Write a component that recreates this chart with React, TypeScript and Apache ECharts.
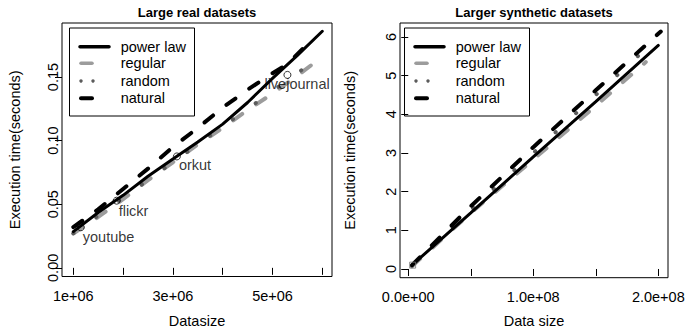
import React, { useEffect, useRef } from 'react';
import * as echarts from 'echarts';

// ---------- data ----------
const seriesNames = ['power law', 'regular', 'random', 'natural'];

// Left panel: Large real datasets (x = data size, y = seconds)
const realPowerLaw: number[][] = [
  [1.0e6, 0.0285], [1.5e6, 0.0435], [2.0e6, 0.057], [2.5e6, 0.072], [3.0e6, 0.0855],
  [3.5e6, 0.099], [4.0e6, 0.113], [4.5e6, 0.130], [5.0e6, 0.149], [5.5e6, 0.167], [6.0e6, 0.186],
];
const realRegular: number[][] = [
  [1.0e6, 0.027], [1.5e6, 0.040], [2.0e6, 0.054], [2.5e6, 0.069], [3.0e6, 0.083],
  [3.5e6, 0.097], [4.0e6, 0.110], [4.5e6, 0.124], [5.0e6, 0.137], [5.5e6, 0.151], [5.8e6, 0.160],
];
const realRandom: number[][] = [
  [1.0e6, 0.027], [1.5e6, 0.041], [2.0e6, 0.055], [2.5e6, 0.069], [3.0e6, 0.083],
  [3.5e6, 0.097], [4.0e6, 0.111], [4.5e6, 0.125], [5.0e6, 0.139], [5.5e6, 0.153], [5.9e6, 0.165],
];
const realNatural: number[][] = [
  [1.0e6, 0.032], [1.5e6, 0.046], [2.0e6, 0.062], [2.5e6, 0.078], [3.0e6, 0.095],
  [3.5e6, 0.110], [4.0e6, 0.126], [4.5e6, 0.140], [5.0e6, 0.153], [5.3e6, 0.160], [5.6e6, 0.172],
];
const realDatasetNames = ['youtube', 'flickr', 'orkut', 'livejournal'];
const realDatasetPoints: number[][] = [
  [1.15e6, 0.0319], [1.87e6, 0.0528], [3.08e6, 0.0876], [5.30e6, 0.1517],
];

// Right panel: Larger synthetic datasets
const synPowerLaw: number[][] = [
  [0.03e8, 0.10], [0.5e8, 1.45], [1.0e8, 2.90], [1.5e8, 4.33], [2.0e8, 5.78],
];
const synRegular: number[][] = [
  [0.03e8, 0.07], [0.5e8, 1.45], [1.0e8, 2.83], [1.5e8, 4.22], [1.9e8, 5.35],
];
const synRandom: number[][] = [
  [0.03e8, 0.08], [0.5e8, 1.52], [1.0e8, 3.00], [1.5e8, 4.50], [1.94e8, 5.81],
];
const synNatural: number[][] = [
  [0.03e8, 0.10], [0.5e8, 1.62], [1.0e8, 3.15], [1.5e8, 4.62], [2.02e8, 6.14],
];
const synMarker: number[][] = [[0.035e8, 0.10]];

// ticks / labels
const leftXTicks = [1e6, 2e6, 3e6, 4e6, 5e6, 6e6];
const leftXLabelValues = [1e6, 3e6, 5e6];
const leftXLabelTexts = ['1e+06', '3e+06', '5e+06'];
const leftYTicks = [0, 0.05, 0.1, 0.15];
const leftYLabelTexts = ['0.00', '0.05', '0.10', '0.15'];
const rightXTicks = [0, 0.5e8, 1e8, 1.5e8, 2e8];
const rightXLabelValues = [0, 1e8, 2e8];
const rightXLabelTexts = ['0.0e+00', '1.0e+08', '2.0e+08'];
const rightYTicks = [0, 1, 2, 3, 4, 5, 6];
const rightYLabelTexts = ['0', '1', '2', '3', '4', '5', '6'];

// ---------- styles ----------
const FONT = '"Liberation Sans", Arial, Helvetica, sans-serif';
const FS = 14.5;
const labelOffsets = [[-2, 10], [-2, 10.5], [-2, 9], [-27, 9.5]];

const lineStyles: any[] = [
  { color: '#000', width: 3, type: 'solid', cap: 'round' },
  { color: '#9c9c9c', width: 4, type: [11, 17], cap: 'round' },
  { color: '#5c5c5c', width: 3.8, type: [0.5, 27.5], cap: 'round' },
  { color: '#000', width: 4, type: [11, 17], cap: 'round' },
];

function lookup(vals: number[], texts: string[]) {
  return (v: number) => {
    for (let i = 0; i < vals.length; i++) {
      if (Math.abs(vals[i] - v) <= Math.abs(vals[i]) * 1e-6 + 1e-12) return texts[i];
    }
    return '';
  };
}

function makeLegend(x0: number, y0: number): any[] {
  const rows = [46.7, 63.3, 81, 98.3];
  const sx = x0 + 11; // sample start
  const tx = x0 + 51.7; // text start
  const els: any[] = [
    {
      type: 'rect',
      shape: { x: x0 + 0.5, y: y0 + 0.5, width: 125, height: 88 },
      style: { fill: 'transparent', stroke: '#000', lineWidth: 1 },
    },
  ];
  els.push({ type: 'line', shape: { x1: sx, y1: rows[0], x2: sx + 29, y2: rows[0] }, style: { stroke: '#000', lineWidth: 3.5, lineCap: 'round' } });
  els.push({ type: 'line', shape: { x1: sx + 1, y1: rows[1], x2: sx + 12, y2: rows[1] }, style: { stroke: '#9c9c9c', lineWidth: 3.5, lineCap: 'round' } });
  els.push({ type: 'circle', shape: { cx: sx + 1, cy: rows[2], r: 1.7 }, style: { fill: '#5c5c5c' } });
  els.push({ type: 'circle', shape: { cx: sx + 13, cy: rows[2], r: 1.7 }, style: { fill: '#5c5c5c' } });
  els.push({ type: 'line', shape: { x1: sx + 1, y1: rows[3], x2: sx + 12, y2: rows[3] }, style: { stroke: '#000', lineWidth: 4, lineCap: 'round' } });
  seriesNames.forEach((n, i) => {
    els.push({
      type: 'text',
      x: tx,
      y: rows[i],
      style: { text: n, font: `${FS}px ${FONT}`, fill: '#000', textAlign: 'left', textVerticalAlign: 'middle' },
    });
  });
  return els;
}

const axisCommon = {
  type: 'value' as const,
  splitLine: { show: false },
  axisLine: { show: false },
  nameLocation: 'middle' as const,
  nameTextStyle: { fontFamily: FONT, fontSize: FS, color: '#000' },
};

export default function App() {
  const ref = useRef<HTMLDivElement>(null);
  useEffect(() => {
    if (!ref.current) return;
    const chart = echarts.init(ref.current, undefined, { renderer: 'svg' });
    const realData = [realPowerLaw, realRegular, realRandom, realNatural];
    const synData = [synPowerLaw, synRegular, synRandom, synNatural];
    const series: any[] = [];
    realData.forEach((d, i) => {
      series.push({
        name: seriesNames[i], type: 'line', xAxisIndex: 0, yAxisIndex: 0, data: d,
        symbol: 'none', lineStyle: lineStyles[i], z: i === 0 ? 3 : 2,
      });
    });
    series.push({
      name: 'datasets', type: 'scatter', xAxisIndex: 0, yAxisIndex: 0,
      data: realDatasetPoints.map((p, i) => ({
        value: p, name: realDatasetNames[i],
        label: { offset: labelOffsets[i] },
      })),
      symbol: 'circle', symbolSize: 7, z: 5,
      itemStyle: { color: 'transparent', borderColor: '#000', borderWidth: 1 },
      label: {
        show: true, formatter: '{b}', position: 'right', distance: 0, align: 'left',
        fontFamily: FONT, fontSize: FS, color: '#000',
      },
    });
    synData.forEach((d, i) => {
      series.push({
        name: seriesNames[i], type: 'line', xAxisIndex: 1, yAxisIndex: 1, data: d,
        symbol: 'none', lineStyle: lineStyles[i], z: i === 0 ? 3 : 2,
      });
    });
    series.push({
      name: 'start', type: 'scatter', xAxisIndex: 1, yAxisIndex: 1, data: synMarker,
      symbol: 'rect', symbolSize: 6, z: 5,
      itemStyle: { color: 'transparent', borderColor: '#777', borderWidth: 1 },
    });

    chart.setOption({
      animation: false,
      backgroundColor: '#fff',
      title: [
        { text: 'Large real datasets', left: 197, top: 6, textAlign: 'center', padding: 0,
          textStyle: { fontFamily: FONT, fontSize: 13, fontWeight: 'bold', color: '#000' } },
        { text: 'Larger synthetic datasets', left: 534, top: 6, textAlign: 'center', padding: 0,
          textStyle: { fontFamily: FONT, fontSize: 13, fontWeight: 'bold', color: '#000' } },
      ],
      grid: [
        { left: 62, top: 23, width: 270, height: 253.5, show: true, borderColor: '#000', borderWidth: 1,
          backgroundColor: 'transparent', containLabel: false, outerBoundsMode: 'none' },
        { left: 400, top: 23, width: 268, height: 254.7, show: true, borderColor: '#000', borderWidth: 1,
          backgroundColor: 'transparent', containLabel: false, outerBoundsMode: 'none' },
      ],
      xAxis: [
        {
          ...axisCommon, gridIndex: 0, min: 0.773e6, max: 6.195e6,
          name: 'Datasize', nameGap: 36.5,
          axisTick: { show: true, length: 7, customValues: leftXTicks, lineStyle: { color: '#000' } },
          axisLabel: { customValues: leftXLabelValues, formatter: lookup(leftXLabelValues, leftXLabelTexts),
            margin: 12, fontFamily: FONT, fontSize: FS, color: '#000' },
        },
        {
          ...axisCommon, gridIndex: 1, min: -0.066e8, max: 2.0776e8,
          name: 'Data size', nameGap: 35.5,
          axisTick: { show: true, length: 7, customValues: rightXTicks, lineStyle: { color: '#000' } },
          axisLabel: { customValues: rightXLabelValues, formatter: lookup(rightXLabelValues, rightXLabelTexts),
            margin: 12, fontFamily: FONT, fontSize: FS, color: '#000' },
        },
      ],
      yAxis: [
        {
          ...axisCommon, gridIndex: 0, min: -0.0068, max: 0.1925,
          name: 'Execution time(seconds)', nameGap: 40,
          axisTick: { show: true, length: 7, customValues: leftYTicks, lineStyle: { color: '#000' } },
          axisLabel: { customValues: leftYTicks, formatter: lookup(leftYTicks, leftYLabelTexts), rotate: 90,
            margin: 2, fontFamily: FONT, fontSize: FS, color: '#000' },
        },
        {
          ...axisCommon, gridIndex: 1, min: -0.225, max: 6.36,
          name: 'Execution time(seconds)', nameGap: 43,
          axisTick: { show: true, length: 7, customValues: rightYTicks, lineStyle: { color: '#000' } },
          axisLabel: { customValues: rightYTicks, formatter: lookup(rightYTicks, rightYLabelTexts), rotate: 90,
            margin: 2, fontFamily: FONT, fontSize: FS, color: '#000' },
        },
      ],
      graphic: [...makeLegend(69, 27.5), ...makeLegend(404, 27.5)],
      series,
    });
    return () => chart.dispose();
  }, []);
  return <div ref={ref} style={{ position: 'fixed', left: 0, top: 0, width: 698, height: 330 }} />;
}
